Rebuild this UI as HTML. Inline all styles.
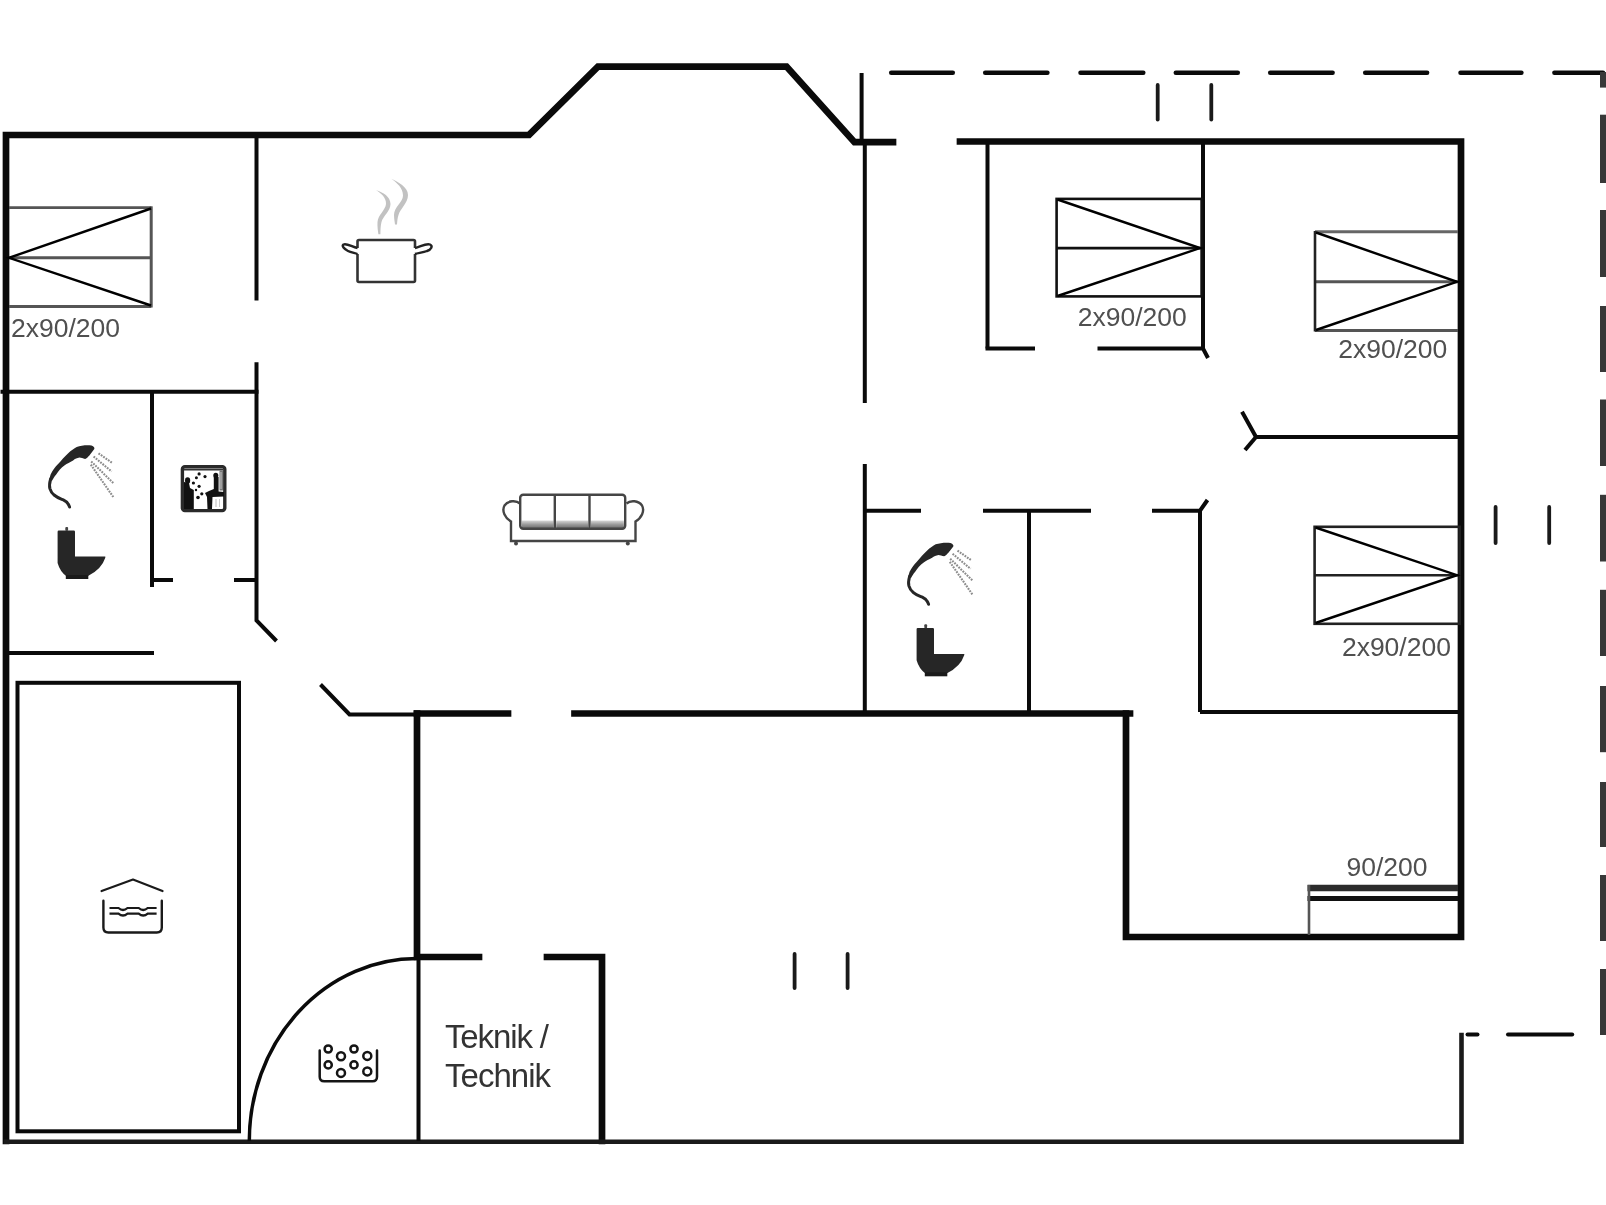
<!DOCTYPE html>
<html><head><meta charset="utf-8"><title>Floor plan</title>
<style>
html,body{margin:0;padding:0;background:#fff;}
body{width:1606px;height:1205px;overflow:hidden;}
svg{display:block;will-change:transform;}
text{font-family:"Liberation Sans",sans-serif;}
.gs{opacity:0.995;}
</style></head>
<body>
<svg width="1606" height="1205" viewBox="0 0 1606 1205">
<defs><linearGradient id="cg" x1="0" y1="0" x2="0" y2="1"><stop offset="0" stop-color="#d8d8d8"/><stop offset="0.5" stop-color="#9a9a9a"/><stop offset="1" stop-color="#6a6a6a"/></linearGradient></defs>
<rect width="1606" height="1205" fill="#fff"/>
<!-- THICK OUTER WALLS -->
<g fill="none" stroke="#0a0a0a" stroke-width="6.7" stroke-linecap="square" stroke-linejoin="miter">
  <polyline points="6,1141 6,135 529,135 598,66.5 786.5,66.6 854.5,142.2 893,142.2"/>
  <polyline points="960,141.5 1461,141.5 1461,937 1126,937 1126,713.5"/>
  <line x1="574.5" y1="713.5" x2="1130" y2="713.5"/>
  <line x1="417" y1="713.5" x2="508" y2="713.5"/>
  <polyline points="417,713.5 417,957 479,957"/>
  <polyline points="547,957 602,957 602,1141"/>
</g>
<!-- bottom outer wall (thinner) -->
<g fill="none" stroke="#1a1a1a" stroke-width="4.6" stroke-linecap="square">
  <polyline points="6,1141.8 1461.5,1141.8 1461.5,1035"/>
</g>
<!-- INTERIOR WALLS -->
<g fill="none" stroke="#0a0a0a" stroke-width="4" stroke-linecap="butt">
  <line x1="256.5" y1="135" x2="256.5" y2="300.5"/>
  <polyline points="256.5,362.3 256.5,620.5 276.5,641"/>
  <line x1="0.5" y1="391.7" x2="258.5" y2="391.7"/>
  <line x1="152" y1="391.5" x2="152" y2="587"/>
  <line x1="152" y1="580" x2="173" y2="580"/>
  <line x1="234" y1="580" x2="256.5" y2="580"/>
  <line x1="6" y1="653" x2="154" y2="653"/>
  <polyline points="320.5,684.5 349.5,714.5 417,714.5"/>
  <line x1="864.8" y1="142" x2="864.8" y2="403"/>
  <line x1="864.8" y1="464" x2="864.8" y2="713"/>
  <line x1="864.8" y1="510.7" x2="921" y2="510.7"/>
  <line x1="983" y1="510.7" x2="1091" y2="510.7"/>
  <polyline points="1152,510.7 1200,510.7 1207.5,500"/>
  <line x1="1029" y1="510.7" x2="1029" y2="713"/>
  <line x1="1200" y1="510.7" x2="1200" y2="712"/>
  <line x1="1200" y1="712" x2="1461" y2="712"/>
  <line x1="987.5" y1="142" x2="987.5" y2="348.6"/>
  <line x1="985.5" y1="348.6" x2="1035" y2="348.6"/>
  <polyline points="1097.5,348.6 1203,348.6 1208,358"/>
  <line x1="1203" y1="142" x2="1203" y2="348.6"/>
  <polyline points="1242,411.8 1256,437 1461,437"/>
  <line x1="1256" y1="437" x2="1245" y2="450"/>
  <line x1="418.5" y1="957" x2="418.5" y2="1141"/>
  <line x1="861.6" y1="73" x2="861.6" y2="142"/>
</g>
<!-- DASHED -->
<g fill="none" stroke="#0a0a0a" stroke-width="4.5" stroke-linecap="round">
  <line x1="891.2" y1="72.7" x2="952.8" y2="72.7"/><line x1="985.2" y1="72.7" x2="1047.4" y2="72.7"/><line x1="1080.5" y1="72.7" x2="1143.3" y2="72.7"/><line x1="1175.8" y1="72.7" x2="1237.8" y2="72.7"/><line x1="1270.2" y1="72.7" x2="1332.6" y2="72.7"/><line x1="1365.2" y1="72.7" x2="1427.1" y2="72.7"/><line x1="1460.5" y1="72.7" x2="1521.4" y2="72.7"/><line x1="1554.4" y1="72.7" x2="1603" y2="72.7"/>
</g>
<g fill="none" stroke="#383838" stroke-width="6">
  <line x1="1603" y1="72" x2="1603" y2="87.6"/>
  <line x1="1603" y1="114.7" x2="1603" y2="183"/>
  <line x1="1603" y1="210" x2="1603" y2="277"/>
  <line x1="1603" y1="306" x2="1603" y2="372"/>
  <line x1="1603" y1="399.5" x2="1603" y2="466"/>
  <line x1="1603" y1="494.8" x2="1603" y2="561.5"/>
  <line x1="1603" y1="589.8" x2="1603" y2="656"/>
  <line x1="1603" y1="686" x2="1603" y2="752.2"/>
  <line x1="1603" y1="782" x2="1603" y2="847"/>
  <line x1="1603" y1="875" x2="1603" y2="941"/>
  <line x1="1603" y1="969" x2="1603" y2="1035"/>
</g>
<g fill="none" stroke="#0a0a0a" stroke-width="4" stroke-linecap="round">
  <line x1="1467.5" y1="1034.4" x2="1477.5" y2="1034.4"/>
  <line x1="1508" y1="1034.4" x2="1572.2" y2="1034.4"/>
</g>
<!-- ticks -->
<g stroke="#1a1a1a" stroke-width="3.8" stroke-linecap="round">
  <line x1="1157.7" y1="85" x2="1157.7" y2="119.5"/>
  <line x1="1211.3" y1="85" x2="1211.3" y2="119.5"/>
  <line x1="1495.6" y1="507" x2="1495.6" y2="543"/>
  <line x1="1549.2" y1="507" x2="1549.2" y2="543"/>
  <line x1="794.6" y1="954" x2="794.6" y2="988"/>
  <line x1="847.6" y1="954" x2="847.6" y2="988"/>
</g>
<!-- pool rect + arc -->
<rect x="17.5" y="682.8" width="221.5" height="448.5" fill="none" stroke="#0a0a0a" stroke-width="4"/>
<path d="M249.3,1141 A167.7,182.4 0 0 1 417,958.6" fill="none" stroke="#0a0a0a" stroke-width="3.5"/>

<!-- BEDS -->
<g fill="none" stroke-width="2.6">
  <!-- Bed A -->
  <g stroke="#555">
    <line x1="9" y1="207.6" x2="151.2" y2="207.6"/>
    <line x1="9" y1="257.8" x2="151.2" y2="257.8" stroke-width="3"/>
    <line x1="9" y1="306.5" x2="151.2" y2="306.5" stroke-width="3.2"/>
    <line x1="151.2" y1="206.3" x2="151.2" y2="307.5" stroke-width="3"/>
  </g>
  <polyline points="151,208.5 9,257.8 151,305.5" stroke="#000" stroke-width="2.4"/>
  <!-- Bed B -->
  <g stroke="#111">
    <rect x="1056.6" y="198.9" width="145" height="97.5"/>
    <line x1="1056.6" y1="248.1" x2="1201" y2="248.1"/>
    <polyline points="1057.5,199.5 1200,248.1 1057.5,296" stroke="#000" stroke-width="2.4"/>
  </g>
  <!-- Bed C -->
  <g stroke="#222">
    <line x1="1315" y1="231.8" x2="1458" y2="231.8" stroke="#666" stroke-width="3"/>
    <line x1="1315" y1="281.8" x2="1458" y2="281.8" stroke="#555" stroke-width="3"/>
    <line x1="1315" y1="330.5" x2="1458" y2="330.5" stroke="#555" stroke-width="3"/>
    <line x1="1315" y1="231" x2="1315" y2="331.5"/>
    <polyline points="1316,232.5 1457,281.8 1316,330" stroke="#000" stroke-width="2.4"/>
  </g>
  <!-- Bed D -->
  <g stroke="#222">
    <rect x="1314.6" y="526.8" width="145" height="97"/>
    <line x1="1314.6" y1="575.3" x2="1458" y2="575.3"/>
    <polyline points="1315.5,527.5 1457,575.2 1315.5,623" stroke="#000" stroke-width="2.4"/>
  </g>
  <!-- Bed E -->
  <line x1="1307.5" y1="888.1" x2="1458" y2="888.1" stroke="#2c2c2c" stroke-width="6.5"/>
  <line x1="1307.5" y1="898.5" x2="1458" y2="898.5" stroke="#111" stroke-width="5"/>
  <line x1="1309" y1="885" x2="1309" y2="935" stroke="#555" stroke-width="2.6"/>
</g>

<!-- ICONS -->
<!-- pot -->
<g id="pot">
  <path d="M376,190.3 C381,193 386.5,198 386,204 C385.5,210 378,215 377.5,222 C377.2,227 378,231 378.4,234.2 L380.4,234.2 C380.5,230 380.5,226 381.5,222 C383,216 390.5,211 390.5,204 C390.5,197 383,192 376,190.3 Z" fill="#c2c2c2"/>
  <path d="M391.3,178.8 C397,183 403,188 403,195.5 C403,202 394,207 394,215 C394,219 394.8,222 395,224.6 L397,224.6 C397.3,221 397.5,218 398.5,215 C400,209 408,203 408,195 C408,187 398,182 391.3,178.8 Z" fill="#c2c2c2"/>
  <path d="M357.5,248 L357.5,241.5 Q357.5,240 359,240 L413.5,240 Q415,240 415,241.5 L415,248 M415,254 L415,280.5 Q415,282 413.5,282 L359,282 Q357.5,282 357.5,280.5 L357.5,254" fill="none" stroke="#333" stroke-width="2.6"/>
  <path d="M357.5,248 C352,247 347,243 343.5,244.5 C341.5,246 344,249 348,251 C351,252.5 355,253 357.5,254" fill="none" stroke="#222" stroke-width="2.4"/>
  <path d="M415,248 C420,247 426,243 430,244.5 C433,246 431.5,249.5 427,251 C423,252.5 418,253 415,254" fill="none" stroke="#222" stroke-width="2.4"/>
</g>
<!-- sofa -->
<g id="sofa" fill="none" stroke="#454545" stroke-width="2.4">
  <rect x="521.6" y="520.5" width="32" height="8" fill="url(#cg)" stroke="none"/>
  <rect x="556.2" y="520.5" width="32" height="8" fill="url(#cg)" stroke="none"/>
  <rect x="590.9" y="520.5" width="33" height="8" fill="url(#cg)" stroke="none"/>
  <rect x="520.2" y="494.8" width="105" height="34" rx="3"/>
  <line x1="554.8" y1="495" x2="554.8" y2="529"/>
  <line x1="589.5" y1="495" x2="589.5" y2="529"/>
  <path d="M520,503.5 C516,500 508,500.5 504.5,505.5 C501.5,511 505,518 511,521.5 L511,541 L635.5,541 L635.5,521.5 C641.5,518 645,511 642,505.5 C638.5,500.5 630.5,500 626.5,503.5"/>
  <circle cx="516" cy="543.5" r="2" fill="#454545" stroke="none"/>
  <circle cx="627.8" cy="543.5" r="2" fill="#454545" stroke="none"/>
</g>
<!-- shower + toilet (bathroom 1) -->
<g id="wc">
  <path d="M76.7,447 C81,445.5 87,445 91.5,445.6 C94,446.5 94.8,448 94.3,449.1 L89.4,455.5 C88,457 86.5,458.5 85.1,459 C83,458.5 81,457.8 79.5,457.6 C77,458 75,459 73.1,460.4 C70,462 67,463.5 64.7,465.3 C61,468 58.5,471 56.2,474.5 C54,477 53,479 52,480.8 L49.2,480.8 C49.5,478 50,476.5 50.6,474.5 C53,470 55,467 57.6,464.6 C61,461 65,456 68.2,453.3 C71,450.5 74,448.5 76.7,447 Z" fill="#262626"/>
  <path d="M50.6,479 C49.5,483 49.2,486 49.9,488.6 C50.8,491.5 52,493.5 54.1,495 C57,497.5 60,498.5 63.3,499.9 C65.5,501 67.5,502.5 68.2,504.1 C68.8,505 69.2,506 69.6,507" fill="none" stroke="#262626" stroke-width="3" stroke-linecap="round"/>
  <g stroke="#8c8c8c" stroke-width="2.1" stroke-dasharray="1.8 1.1">
    <line x1="98.5" y1="453.3" x2="112.6" y2="463.2"/>
    <line x1="93.6" y1="456.5" x2="111.6" y2="471.5"/>
    <line x1="91.2" y1="461.5" x2="114" y2="483.7"/>
    <line x1="90.8" y1="464.6" x2="113.3" y2="497"/>
  </g>
  <path d="M57.6,531.8 Q57.6,530.6 58.8,530.6 L73.8,530.6 Q75,530.6 75,531.8 L75,556.6 L105.3,556.6 L105.3,557.8 Q101.5,569.5 88,576 L66.2,576 Q60,571.5 57.6,563 Z" fill="#262626"/>
  <rect x="65.8" y="575" width="22.5" height="4" fill="#1a1a1a"/>
  <rect x="65.3" y="527" width="2.8" height="4" rx="1" fill="#444"/>
</g>
<use href="#wc" transform="translate(859,97.3)"/>
<!-- sauna box -->
<g id="sauna">
  <rect x="182.4" y="466.6" width="42.4" height="44" rx="2.5" fill="#fff" stroke="#2a2a2a" stroke-width="3.4"/>
  <rect x="184" y="468.5" width="39" height="2" fill="#333"/>
  <ellipse cx="187.6" cy="480.5" rx="2.6" ry="3.2" fill="#111"/>
  <path d="M184,482 L189,483 L190,488 L193.8,490 L193.8,509 L184,509 Z" fill="#111"/>
  <g fill="#111">
    <circle cx="199.1" cy="473.9" r="1.6"/><circle cx="196.4" cy="477.7" r="1.5"/>
    <circle cx="193.4" cy="483" r="1.6"/><circle cx="199.1" cy="486.3" r="1.6"/>
    <circle cx="205" cy="476.6" r="1.6"/><circle cx="201.8" cy="493.8" r="1.6"/>
    <circle cx="198" cy="497.5" r="1.8"/><circle cx="196" cy="490" r="1.2"/>
  </g>
  <ellipse cx="215.8" cy="475.5" rx="2.5" ry="2.8" fill="#111"/>
  <path d="M213.8,477 L218.6,477 L218.6,491.5 L224,492 L224,496.5 L212.5,497 L212,509 L207.5,509 L207,497 L205,493 L209,491 L213.8,489 Z" fill="#111"/>
  <rect x="213.4" y="497.5" width="8.4" height="10.5" fill="#fff"/>
  <line x1="216" y1="499" x2="216" y2="507" stroke="#bbb" stroke-width="1"/>
  <line x1="219.5" y1="499" x2="219.5" y2="507" stroke="#ccc" stroke-width="1"/>
  <rect x="219.5" y="470.5" width="3.5" height="20" fill="#777"/>
  <line x1="221" y1="472" x2="221" y2="489" stroke="#ddd" stroke-width="0.8"/>
</g>
<!-- pool icon -->
<g id="poolicon" fill="none" stroke="#1a1a1a">
  <polyline points="101.6,891 133,879.5 162.5,891" stroke-width="2.2" stroke-linecap="round" stroke-linejoin="round"/>
  <path d="M103.4,900.8 L103.4,927.5 Q103.4,932.5 108.4,932.5 L156.8,932.5 Q161.8,932.5 161.8,927.5 L161.8,900.8" stroke-width="2.4" stroke-linecap="round"/>
  <path d="M109.5,908 H118.5 Q123,912 127.5,908 H138.7 Q143.2,912 147.7,908 H156.6" stroke-width="2.2"/>
  <path d="M109.5,913.6 H118.5 Q123,917.4 127.5,913.6 H138.7 Q143.2,917.4 147.7,913.6 H156.6" stroke-width="2.2"/>
</g>
<!-- spa icon -->
<g id="spa" fill="none" stroke="#151515">
  <path d="M319.7,1050.5 L319.7,1076.8 Q319.7,1081.3 324.2,1081.3 L372.5,1081.3 Q377,1081.3 377,1076.8 L377,1050.5" stroke-width="2.5" stroke-linecap="round"/>
  <g stroke-width="2.5">
    <circle cx="328.2" cy="1049" r="3.6"/>
    <circle cx="341" cy="1056.2" r="4"/>
    <circle cx="354" cy="1049" r="3.6"/>
    <circle cx="367.3" cy="1055.9" r="4"/>
    <circle cx="328.2" cy="1064.9" r="3.6"/>
    <circle cx="341" cy="1072.9" r="4"/>
    <circle cx="354" cy="1064.9" r="3.6"/>
    <circle cx="367.3" cy="1071.4" r="4"/>
  </g>
</g>

<!-- TEXT -->
<g class="gs" font-size="26.5" fill="#505050">
  <text x="11" y="336.9">2x90/200</text>
  <text x="1077.7" y="326.3">2x90/200</text>
  <text x="1338.2" y="357.6">2x90/200</text>
  <text x="1341.9" y="656">2x90/200</text>
  <text x="1346.5" y="876.2">90/200</text>
</g>
<g class="gs" font-size="33" fill="#333">
  <text x="445" y="1047.5" textLength="104" lengthAdjust="spacing">Teknik /</text>
  <text x="445" y="1086.7" textLength="106" lengthAdjust="spacing">Technik</text>
</g>
</svg>
</body></html>
